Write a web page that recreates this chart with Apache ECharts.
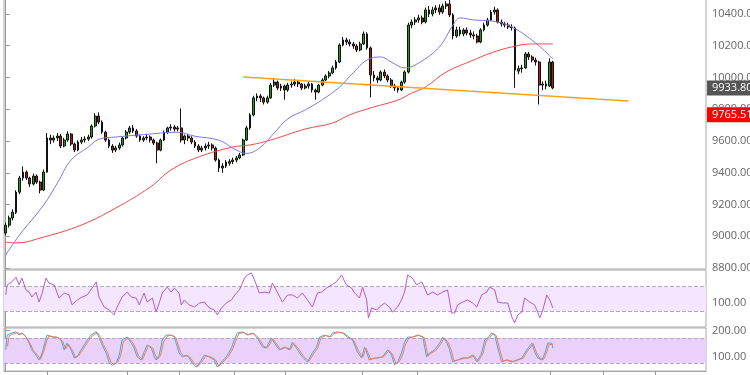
<!DOCTYPE html>
<html><head><meta charset="utf-8">
<script src="https://cdn.jsdelivr.net/npm/echarts@6/dist/echarts.min.js"></script>
<style>html,body{margin:0;padding:0;background:#fff}#c{width:750px;height:375px}</style>
</head><body><div id="c"></div>
<script>
// ---- data ----
const categoryCount = 204;
const categories = Array.from({length: categoryCount}, (_, i) => String(i));
// [open, close, low, high]
const ohlc = [
[9020,9070,9005,9085],[9070,9115,9055,9130],[9115,9152,9100,9170],[9150,9278,9140,9290],[9278,9367,9265,9380],
[9367,9404,9350,9440],[9404,9367,9355,9415],[9367,9329,9310,9375],[9329,9379,9320,9395],[9379,9341,9330,9390],
[9341,9291,9270,9350],[9291,9404,9285,9420],[9404,9619,9400,9650],[9619,9606,9580,9640],[9606,9619,9590,9635],
[9619,9631,9600,9650],[9631,9568,9555,9645],[9568,9606,9560,9620],[9606,9644,9595,9660],[9644,9581,9570,9650],
[9581,9543,9530,9590],[9543,9593,9535,9605],[9593,9606,9580,9625],[9606,9612,9590,9630],[9612,9625,9600,9640],
[9625,9694,9615,9705],[9694,9757,9685,9775],[9757,9719,9705,9780],[9719,9656,9645,9730],[9656,9606,9595,9665],
[9606,9568,9555,9615],[9568,9543,9525,9580],[9543,9556,9530,9570],[9556,9575,9545,9590],[9575,9619,9565,9630],
[9619,9656,9610,9670],[9656,9682,9645,9695],[9682,9663,9650,9700],[9663,9631,9620,9675],[9631,9606,9595,9640],
[9606,9619,9595,9630],[9619,9625,9605,9645],[9625,9606,9590,9635],[9606,9587,9575,9615],[9587,9543,9460,9595],
[9543,9606,9535,9615],[9606,9656,9600,9665],[9656,9682,9645,9690],[9682,9688,9665,9705],[9688,9675,9660,9700],
[9675,9682,9660,9695],[9682,9606,9590,9805],[9606,9631,9580,9640],[9631,9619,9600,9645],[9619,9593,9580,9630],
[9593,9568,9555,9605],[9568,9543,9530,9580],[9543,9556,9530,9570],[9556,9568,9540,9585],[9568,9575,9550,9595],
[9575,9556,9540,9585],[9556,9480,9470,9565],[9480,9430,9405,9490],[9430,9442,9400,9460],[9442,9467,9430,9480],
[9460,9470,9445,9485],[9470,9480,9455,9495],[9480,9493,9465,9505],[9493,9512,9485,9525],[9512,9606,9505,9615],
[9606,9682,9600,9695],[9682,9764,9670,9775],[9764,9871,9755,9885],[9871,9883,9850,9900],[9883,9871,9845,9895],
[9871,9845,9830,9880],[9845,9871,9835,9885],[9871,9952,9865,9965],[9952,9971,9940,9990],[9971,9934,9920,9980],
[9934,9946,9915,9960],[9946,9921,9860,9955],[9921,9952,9910,9965],[9952,9959,9935,9975],[9959,9971,9945,9990],
[9971,9959,9940,9985],[9959,9934,9920,9965],[9934,9946,9925,9960],[9946,9959,9930,9975],[9959,9921,9905,9965],
[9921,9908,9860,9930],[9908,9952,9900,9960],[9952,9984,9945,9995],[9984,10009,9975,10020],[10009,10028,9995,10040],
[10028,10060,10020,10075],[10060,10097,10050,10110],[10097,10204,10090,10215],[10204,10236,10195,10255],[10236,10223,10205,10250],
[10223,10211,10195,10240],[10211,10198,10180,10225],[10198,10173,10160,10210],[10173,10211,10165,10225],[10211,10274,10205,10290],
[10274,10186,10175,10285],[10186,10015,9875,10195],[10015,9997,9975,10040],[9997,9984,9965,10010],[9984,10034,9975,10045],
[10034,10009,9995,10050],[10009,9984,9970,10020],[9984,9946,9935,9995],[9946,9934,9915,9960],[9934,9921,9905,9945],
[9921,9971,9915,9980],[9971,10034,9960,10045],[10034,10330,10025,10345],[10330,10349,10310,10365],[10349,10362,10330,10380],
[10362,10375,10345,10395],[10375,10349,10335,10390],[10349,10425,10340,10440],[10425,10400,10380,10450],[10400,10425,10385,10445],
[10425,10438,10405,10455],[10438,10412,10395,10460],[10412,10450,10400,10465],[10450,10463,10430,10480],[10463,10394,10380,10488],
[10394,10261,10240,10405],[10261,10299,10250,10320],[10299,10274,10260,10320],[10274,10299,10260,10310],[10299,10280,10265,10315],
[10280,10268,10250,10300],[10268,10261,10240,10290],[10261,10223,10215,10275],[10223,10299,10215,10310],[10299,10330,10290,10345],
[10330,10362,10320,10375],[10362,10412,10355,10425],[10412,10425,10395,10445],[10425,10349,10340,10435],[10349,10337,10320,10365],
[10337,10330,10315,10350],[10330,10318,10305,10345],[10318,10312,10295,10335],[10312,10047,9935,10320],[10040,10055,10020,10075],
[10055,10060,10030,10080],[10060,10148,10055,10160],[10148,10129,10110,10160],[10129,10110,10095,10140],[10110,10097,10075,10125],
[10097,9952,9830,10105],[9952,9959,9920,9975],[9959,9946,9925,9980],[9946,10097,9940,10120],[10097,9933.8,9925,10105]
];
const maFast = [[0,8882],[4,9008],[11,9196],[15,9335],[19,9480],[24,9562],[27,9610],[32,9625],[40,9640],[50,9655],[55,9630],[62,9605],[66,9555],[70,9522],[74,9560],[78,9650],[82,9740],[87,9795],[92,9860],[97,9940],[101,10030],[105,10110],[109,10129],[112,10097],[116,10060],[120,10091],[126,10192],[130,10330],[132,10375],[136,10362],[141,10356],[147,10318],[154,10217],[159,10116]];
const maSlow = [[0,8964],[3,8958],[11,8995],[22,9071],[32,9178],[42,9310],[48,9417],[56,9499],[66,9562],[71,9575],[77,9606],[87,9675],[95,9713],[100,9765],[107,9814],[114,9858],[118,9902],[122,9940],[128,10034],[136,10110],[141,10154],[147,10192],[153,10211],[159,10211]];
const trendLine = [[69,10003],[181,9852]];
const lastPrice = 9933.80;
const levelPrice = 9765.51;
const priceTicks = [8800,9000,9200,9400,9600,9800,10000,10200,10400];
const rsi = [[0,135],[0.4,177],[1.8,190],[3.0,210],[3.9,177],[4.7,206],[5.9,156],[6.8,147],[7.6,126],[8.8,147],[9.7,105],[10.6,143],[11.7,206],[12.6,185],[14.1,177],[15.5,122],[17.0,143],[18.4,135],[19.3,93],[20.8,114],[22.2,126],[23.7,135],[25.1,164],[26.3,190],[27.1,126],[28.6,84],[30.1,72],[31.5,51],[32.4,84],[33.8,126],[35.3,147],[36.5,126],[37.9,122],[38.8,93],[40.2,143],[41.1,105],[42.6,122],[43.7,63],[44.6,101],[45.5,143],[46.9,168],[48.1,147],[49.0,164],[50.4,143],[51.0,93],[51.9,114],[53.3,93],[54.8,84],[56.3,101],[57.7,105],[59.2,80],[60.6,72],[61.5,51],[62.7,80],[64.1,101],[65.6,114],[67.0,143],[67.9,156],[69.4,206],[70.2,219],[71.4,227],[72.3,198],[73.7,143],[75.2,147],[76.6,143],[77.5,185],[78.9,147],[80.4,105],[81.9,135],[83.3,135],[84.8,122],[86.2,143],[87.7,114],[89.1,84],[90.6,143],[91.8,147],[93.2,164],[94.7,177],[96.1,190],[97.6,219],[99.0,177],[100.5,164],[101.4,143],[102.8,122],[103.7,168],[104.9,114],[105.4,38],[106.3,80],[107.8,72],[108.6,84],[110.1,101],[111.5,84],[112.4,63],[113.9,84],[115.0,114],[115.9,147],[116.8,219],[118.2,206],[119.4,177],[120.9,190],[121.7,164],[122.6,135],[124.1,147],[125.5,135],[127.0,147],[128.4,156],[129.6,59],[130.5,59],[131.3,93],[132.8,105],[134.2,114],[135.7,101],[136.9,84],[138.3,135],[139.8,147],[140.6,168],[142.1,156],[143.0,105],[144.4,101],[145.9,101],[147.1,42],[147.9,17],[148.8,51],[150.0,63],[150.8,122],[152.3,105],[153.7,93],[154.6,63],[155.2,38],[156.1,72],[157.2,135],[158.1,114],[159.0,80]];
const rsiBand = [65, 170];
const rsiTicks = [100];
const stochK = [[0,126],[0.4,183],[1.8,191],[3.0,195],[3.9,183],[4.7,191],[5.9,175],[6.8,152],[7.6,126],[8.8,106],[9.7,87],[10.6,114],[11.7,172],[12.0,183],[13.5,175],[14.9,175],[16.1,164],[17.0,126],[17.8,152],[19.0,126],[19.9,95],[20.7,99],[21.9,126],[22.8,145],[23.7,164],[24.8,183],[26.3,195],[27.1,175],[28.0,145],[29.2,114],[30.1,76],[31.0,68],[32.1,76],[33.0,106],[33.8,164],[35.3,175],[36.5,152],[37.3,133],[38.2,99],[39.4,87],[40.2,118],[41.1,145],[42.3,133],[43.2,99],[43.7,87],[44.6,106],[45.5,164],[46.6,183],[48.1,183],[49.0,175],[50.4,114],[51.3,99],[52.5,106],[53.3,95],[54.2,76],[55.4,60],[56.3,76],[57.7,106],[59.2,99],[60.6,87],[61.5,60],[62.7,80],[64.1,99],[65.6,133],[66.4,164],[67.3,191],[68.8,195],[70.2,183],[71.7,191],[73.1,172],[74.6,137],[75.7,133],[77.2,172],[78.1,152],[79.5,126],[81.0,137],[82.4,126],[83.3,156],[84.8,126],[86.2,99],[87.7,80],[89.1,114],[90.3,137],[91.2,175],[92.6,183],[94.1,175],[95.0,191],[96.4,195],[97.9,191],[99.3,175],[100.8,164],[102.2,118],[103.4,95],[104.3,137],[105.7,87],[107.2,95],[108.1,95],[109.5,99],[111.0,126],[112.1,106],[113.0,68],[113.9,80],[115.0,114],[115.9,156],[116.8,175],[118.2,175],[119.7,183],[121.2,175],[122.3,99],[123.2,114],[124.6,126],[126.1,152],[127.0,175],[128.1,156],[129.0,126],[129.9,80],[131.3,87],[132.8,95],[134.2,95],[135.7,106],[136.9,80],[138.3,114],[139.2,164],[140.1,172],[141.2,191],[142.1,183],[143.0,133],[144.1,80],[145.6,87],[147.1,80],[148.5,87],[150.0,95],[151.4,126],[152.9,152],[153.7,118],[154.6,95],[155.8,87],[156.7,114],[157.5,152],[158.7,152],[159.0,133]];
const stochD = [[0.5,140],[1,180],[2.2,188],[3.4,192],[4.3,186],[5.1,188],[6.3,170],[7.2,148],[8.0,124],[9.2,106],[10.1,90],[11.0,118],[12.1,168],[12.6,180],[14.0,176],[15.3,173],[16.5,160],[17.4,130],[18.2,148],[19.4,124],[20.3,97],[21.1,102],[22.3,124],[23.2,143],[24.1,162],[25.2,180],[26.7,192],[27.5,174],[28.4,146],[29.6,116],[30.5,80],[31.4,70],[32.5,78],[33.4,104],[34.2,158],[35.7,173],[36.9,154],[37.7,134],[38.6,102],[39.8,90],[40.6,116],[41.5,142],[42.7,134],[43.6,102],[44.1,90],[45.0,104],[45.9,158],[47.0,180],[48.5,182],[49.4,174],[50.8,118],[51.7,101],[52.9,104],[53.7,96],[54.6,78],[55.8,63],[56.7,74],[58.1,103],[59.6,99],[61.0,88],[61.9,63],[63.1,79],[64.5,97],[66.0,130],[66.8,160],[67.7,188],[69.2,193],[70.6,184],[72.1,189],[73.5,172],[75.0,140],[76.1,134],[77.6,168],[78.5,153],[79.9,128],[81.4,136],[82.8,128],[83.7,152],[85.2,128],[86.6,101],[88.1,82],[89.5,111],[90.7,134],[91.6,172],[93.0,182],[94.5,176],[95.4,188],[96.8,193],[98.3,190],[99.7,176],[101.2,162],[102.6,120],[103.8,98],[104.7,133],[106.1,90],[107.6,95],[108.5,96],[109.9,100],[111.4,124],[112.5,107],[113.4,72],[114.3,80],[115.4,110],[116.3,152],[117.2,172],[118.6,176],[120.1,182],[121.6,174],[122.7,102],[123.6,113],[125.0,124],[126.5,150],[127.4,172],[128.5,156],[129.4,128],[130.3,84],[131.7,88],[133.2,94],[134.6,95],[136.1,104],[137.3,82],[138.7,112],[139.6,160],[140.5,170],[141.6,188],[142.5,182],[143.4,136],[144.5,84],[146.0,87],[147.5,81],[148.9,87],[150.4,94],[151.8,124],[153.3,150],[154.1,120],[155.0,97],[156.2,88],[157.1,112],[157.9,148],[159.0,145]];
const stochBand = [75, 172];
const stochTicks = [100, 200];
const timeTicks = [12, 35.3, 50.4, 66.4, 81.3, 103.7, 119.7, 158.1, 173.5, 188.7];

// ---- chart ----
const FONT = 'Open Sans';
const chart = echarts.init(document.getElementById('c'), null, {renderer: 'canvas'});
const gridBase = {left: 4, right: 44, show: true, borderColor: '#aaa', borderWidth: 1, outerBoundsMode: 'none', containLabel: false};
const fmt2 = v => Number(v).toFixed(2);
const rightAxis = (grid, min, max, ticks) => ({
  type: 'value', gridIndex: grid, position: 'right', min: min, max: max,
  axisLine: {show: true, lineStyle: {color: '#999', width: 1}},
  axisTick: {show: true, length: 4, customValues: ticks, lineStyle: {color: '#999'}},
  axisLabel: {show: true, customValues: ticks, formatter: fmt2, color: '#666', fontSize: 11, fontFamily: FONT, margin: 6},
  splitLine: {show: false}
});
const hiddenX = grid => ({type: 'value', gridIndex: grid, min: -0.5, max: categoryCount - 0.5, show: false});
const bandLines = (band) => ({
  symbol: 'none', silent: true, label: {show: false},
  lineStyle: {color: '#b9a3c6', type: 'dashed', width: 1},
  data: [{yAxis: band[0]}, {yAxis: band[1]}]
});
const bandArea = (band, color) => ({
  silent: true, itemStyle: {color: color},
  data: [[{yAxis: band[0]}, {yAxis: band[1]}]]
});
const priceTag = (v, bg) => ({
  yAxis: v,
  label: {show: true, position: 'end', distance: 1, formatter: fmt2(v), color: '#fff', backgroundColor: bg,
          padding: [2, 5, 1, 5], fontSize: 11, fontFamily: FONT, lineHeight: 12}
});

chart.setOption({
  animation: false,
  backgroundColor: '#fff',
  grid: [
    Object.assign({top: -1, height: 270}, gridBase),
    Object.assign({top: 270, height: 57}, gridBase),
    Object.assign({top: 328, height: 43}, gridBase)
  ],
  xAxis: [
    {type: 'category', gridIndex: 0, data: categories, boundaryGap: true, show: false},
    hiddenX(0),
    hiddenX(1),
    {type: 'value', gridIndex: 2, min: -0.5, max: categoryCount - 0.5,
     axisLine: {show: true, lineStyle: {color: '#aaa'}},
     axisTick: {show: true, length: 4, customValues: timeTicks, lineStyle: {color: '#999'}},
     axisLabel: {show: false, customValues: timeTicks},
     splitLine: {show: false}}
  ],
  yAxis: [
    rightAxis(0, 8794, 10494, priceTicks),
    rightAxis(1, 0, 240, rsiTicks),
    rightAxis(2, 45, 210, stochTicks)
  ],
  series: [
    {type: 'candlestick', xAxisIndex: 0, yAxisIndex: 0, data: ohlc, barWidth: '68%',
     itemStyle: {color: '#1f9a1f', color0: '#b01818', borderColor: '#111', borderColor0: '#111', borderWidth: 1},
     markLine: {symbol: 'none', silent: true, lineStyle: {color: 'rgba(0,0,0,0)', width: 0},
                data: [priceTag(lastPrice, '#555555'), priceTag(levelPrice, '#ff0000')]}},
    {type: 'line', xAxisIndex: 1, yAxisIndex: 0, data: maSlow, smooth: 0.4, symbol: 'none',
     lineStyle: {color: '#f04a4a', width: 1}},
    {type: 'line', xAxisIndex: 1, yAxisIndex: 0, data: maFast, smooth: 0.4, symbol: 'none',
     lineStyle: {color: '#7b7be0', width: 1}},
    {type: 'line', xAxisIndex: 1, yAxisIndex: 0, data: trendLine, symbol: 'none',
     lineStyle: {color: '#ffa31a', width: 1.6}},
    {type: 'line', xAxisIndex: 2, yAxisIndex: 1, data: rsi, symbol: 'none', z: 5,
     lineStyle: {color: '#b25ccf', width: 1},
     markArea: bandArea(rsiBand, '#f4e6fc'), markLine: bandLines(rsiBand)},
    {type: 'line', xAxisIndex: 3, yAxisIndex: 2, data: stochK, symbol: 'none', z: 5,
     lineStyle: {color: '#4aa3f0', width: 1},
     markArea: bandArea(stochBand, '#e9d1fa'), markLine: bandLines(stochBand)},
    {type: 'line', xAxisIndex: 3, yAxisIndex: 2, data: stochD, symbol: 'none', z: 6,
     lineStyle: {color: '#f08048', width: 1}}
  ]
});
</script>
</body></html>
